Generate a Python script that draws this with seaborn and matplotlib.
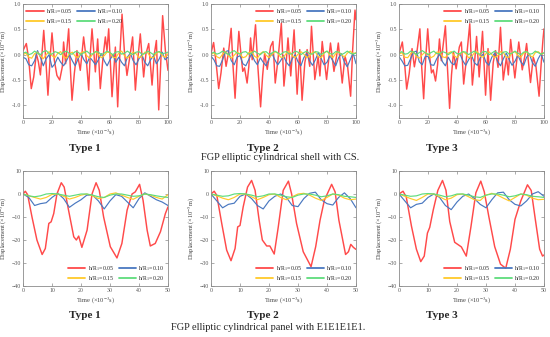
import numpy as np
import matplotlib
matplotlib.use("Agg")
import matplotlib.pyplot as plt
import seaborn as sns

# ---- data ----
t_top = np.arange(0, 101, 2)
t_bot = np.arange(0, 51, 2)

labels = [r"h/R$_1$=0.05", r"h/R$_1$=0.10", r"h/R$_1$=0.15", r"h/R$_1$=0.20"]
colors = ["#ff4a4a", "#4a78c0", "#ffc92a", "#5edc7c"]

# top row, red series (peaks / troughs)
red_t1 = [0, 2.3, 3.9, 5.7, 7.4, 9.2, 10.6, 12.0, 14.3, 15.9, 17.2, 18.9, 20.0, 21.6, 23.4, 25.3, 27.1, 28.0,
          29.4, 31.5, 32.6, 33.8, 35.4, 37.2, 39.5, 41.8, 43.7, 45.3, 46.4, 47.6, 49.9, 51.5, 53.3, 55.2, 56.8,
          57.9, 59.1, 61.4, 63.7, 65.3, 66.7, 68.3, 69.9, 71.7, 74.0, 75.6, 77.5, 79.1, 80.9, 83.2, 84.8, 86.7,
          89.0, 90.6, 92.0, 93.6, 94.9, 96.3, 98.2, 100]
red_v1 = [0.08, 0.22, -0.08, -0.67, -0.44, 0.02, -0.14, -0.40, 0.48, -0.18, -0.80, 0.02, 0.43, -0.11, -0.41, -0.50,
          -0.24, 0.25, -0.18, 0.51, -0.24, -0.90, -0.37, 0.08, -0.31, 0.35, -0.11, -0.70, 0.02, 0.51, -0.34, 0.31,
          -0.67, -0.05, 0.35, 0.08, 0.51, -0.83, 0.15, -1.03, -0.05, 0.80, 0.08, -0.41, 0.02, 0.35, -0.70, -0.11,
          0.41, -0.44, 0.02, 0.22, -0.60, 0.02, 0.28, -1.09, -0.24, 0.77, 0.08, -0.31]

red_t2 = [0, 1.8, 3.5, 5.3, 6.9, 8.8, 10.4, 12.0, 13.9, 15.2, 16.6, 18.0, 19.2, 20.8, 21.9, 23.1, 24.9, 26.1, 27.3,
          28.4, 30.7, 32.3, 34.2, 35.6, 37.0, 38.8, 41.1, 42.7, 44.3, 46.2, 48.5, 50.3, 52.0, 53.1, 55.0, 57.3,
          59.4, 61.2, 62.8, 64.7, 66.3, 68.1, 69.3, 71.6, 73.9, 75.1, 76.7, 79.7, 82.4, 84.8, 86.6, 87.8, 90.5,
          92.4, 94.2, 96.3, 97.7, 99.3, 100]
red_v2 = [0.03, 0.24, -0.16, -0.67, -0.36, 0.13, -0.23, 0.03, 0.52, -0.23, -0.86, -0.10, 0.46, -0.03, -0.33, -0.26,
          -0.56, -0.23, 0.33, -0.10, 0.59, -0.23, -1.03, -0.42, 0.03, -0.29, 0.16, 0.26, -0.56, -0.10, 0.62, -0.62,
          -0.10, 0.33, -0.42, 0.49, -0.78, 0.10, -0.90, -0.16, 0.10, -0.23, 0.56, -0.49, -0.03, -0.42, 0.26, -0.49,
          0.23, -0.33, -0.03, 0.23, -0.56, -0.03, -0.23, -0.82, 0.10, 0.88, 0.69]

red_t3 = [0, 2.3, 3.8, 5.3, 7.0, 9.0, 10.6, 12.3, 14.4, 15.6, 17.0, 18.4, 19.8, 21.2, 22.4, 23.6, 25.2, 26.6, 27.9,
          29.2, 32.0, 33.4, 34.9, 36.2, 37.6, 39.4, 41.6, 43.0, 44.6, 46.5, 48.8, 50.6, 52.2, 53.5, 55.3, 57.6,
          59.7, 61.4, 63.2, 65.0, 66.6, 68.3, 70.0, 71.9, 74.1, 75.4, 77.0, 79.9, 82.6, 85.0, 86.8, 88.0, 90.7,
          92.6, 94.4, 96.6, 98.0, 99.3, 100]
red_v3 = [0.02, 0.25, -0.15, -0.68, -0.38, 0.12, -0.24, 0.04, 0.51, -0.22, -0.87, -0.08, 0.51, -0.05, -0.36, -0.30,
          -0.52, -0.20, 0.31, -0.12, 0.57, -0.25, -1.06, -0.40, 0.05, -0.28, 0.15, 0.25, -0.58, -0.08, 0.61, -0.60,
          -0.12, 0.36, -0.44, 0.46, -0.80, 0.12, -0.90, -0.15, 0.08, -0.25, 0.54, -0.50, -0.05, -0.40, 0.30, -0.46,
          0.25, -0.30, -0.02, 0.22, -0.55, -0.05, -0.22, -0.82, -0.20, 0.30, 0.51]

# top row, small series on t_top
blue_s1 = [-0.05, -0.08, -0.20, -0.22, -0.12, 0.08, -0.05, -0.22, -0.08, 0.00,
           -0.25, -0.18, -0.05, -0.15, -0.22, -0.12, 0.00, -0.12, -0.22, -0.08,
           0.02, -0.10, -0.18, -0.05, -0.12, -0.20, -0.10, 0.02, -0.12, -0.22,
           -0.10, 0.00, -0.15, -0.05, -0.15, -0.22, -0.05, 0.03, -0.12, -0.20,
           -0.08, 0.00, -0.15, -0.22, -0.10, -0.02, -0.18, -0.08, 0.05, -0.10, -0.05]
yellow_s1 = [0.00, 0.03, -0.05, -0.07, 0.02, 0.05, -0.03, -0.08, 0.00, 0.06,
             -0.02, -0.06, 0.03, 0.06, -0.04, -0.07, 0.02, 0.05, -0.03, -0.06,
             0.04, 0.06, -0.02, -0.07, 0.01, 0.06, 0.00, -0.06, -0.02, 0.05,
             0.04, -0.05, -0.06, 0.03, 0.07, -0.02, -0.07, 0.00, 0.05, 0.02,
             -0.06, -0.03, 0.05, 0.04, -0.05, -0.06, 0.03, 0.06, -0.02, -0.05, 0.02]
green_s1 = [0.03, 0.05, 0.00, 0.02, 0.07, 0.03, 0.00, 0.06, 0.08, 0.02,
            0.01, 0.06, 0.04, 0.00, 0.05, 0.07, 0.02, 0.01, 0.06, 0.05,
            0.00, 0.04, 0.07, 0.02, 0.01, 0.06, 0.05, 0.00, 0.03, 0.07,
            0.04, 0.00, 0.05, 0.06, 0.01, 0.03, 0.07, 0.03, 0.00, 0.05,
            0.06, 0.01, 0.02, 0.07, 0.04, 0.00, 0.05, 0.06, 0.02, 0.03, 0.05]

blue_s2 = [-0.03, -0.10, -0.22, -0.23, -0.10, 0.06, 0.08, -0.12, -0.20, -0.05,
           -0.02, -0.18, -0.22, -0.10, 0.02, -0.12, -0.20, -0.06, -0.15, -0.22,
           -0.08, 0.03, -0.10, -0.20, -0.12, -0.02, -0.15, -0.22, -0.08, 0.00,
           -0.14, -0.22, -0.06, 0.02, -0.12, -0.21, -0.10, 0.04, -0.08, -0.20,
           -0.15, -0.02, -0.12, -0.22, -0.06, 0.02, -0.15, -0.24, -0.10, 0.03, -0.18]
yellow_s2 = [0.00, 0.04, -0.04, -0.07, 0.01, 0.06, -0.02, -0.07, -0.01, 0.05,
             0.02, -0.06, -0.04, 0.04, 0.06, -0.03, -0.07, 0.02, 0.06, -0.01,
             -0.06, 0.00, 0.06, 0.03, -0.05, -0.05, 0.03, 0.07, -0.02, -0.06,
             0.01, 0.06, 0.01, -0.06, -0.03, 0.05, 0.05, -0.04, -0.06, 0.03,
             0.07, -0.01, -0.06, 0.02, 0.06, 0.00, -0.05, 0.03, 0.07, 0.02, 0.04]
green_s2 = [0.02, 0.05, 0.01, 0.03, 0.07, 0.04, 0.00, 0.05, 0.08, 0.03,
            0.01, 0.05, 0.06, 0.01, 0.03, 0.07, 0.03, 0.00, 0.05, 0.06,
            0.01, 0.03, 0.07, 0.04, 0.00, 0.05, 0.06, 0.01, 0.02, 0.07,
            0.05, 0.00, 0.04, 0.07, 0.02, 0.01, 0.06, 0.05, 0.00, 0.04,
            0.07, 0.02, 0.01, 0.06, 0.05, 0.00, 0.03, 0.07, 0.03, 0.01, 0.03]

blue_s3 = [-0.04, -0.12, -0.22, -0.21, -0.08, 0.05, 0.07, -0.14, -0.20, -0.04,
           -0.03, -0.20, -0.21, -0.08, 0.01, -0.14, -0.22, -0.05, -0.16, -0.20,
           -0.06, 0.02, -0.12, -0.21, -0.10, -0.01, -0.16, -0.21, -0.06, 0.01,
           -0.15, -0.21, -0.05, 0.03, -0.13, -0.22, -0.08, 0.03, -0.10, -0.21,
           -0.13, -0.01, -0.14, -0.21, -0.05, 0.01, -0.16, -0.23, -0.08, 0.02, -0.15]
yellow_s3 = [0.01, 0.04, -0.05, -0.06, 0.02, 0.06, -0.03, -0.07, 0.00, 0.05,
             0.01, -0.06, -0.03, 0.05, 0.05, -0.04, -0.06, 0.03, 0.06, -0.02,
             -0.06, 0.01, 0.06, 0.02, -0.06, -0.04, 0.04, 0.06, -0.03, -0.05,
             0.02, 0.06, 0.00, -0.06, -0.02, 0.06, 0.04, -0.05, -0.05, 0.04,
             0.06, -0.02, -0.05, 0.03, 0.06, -0.01, -0.05, 0.04, 0.06, 0.01, 0.03]
green_s3 = [0.03, 0.06, 0.01, 0.02, 0.07, 0.05, 0.00, 0.04, 0.08, 0.04,
            0.00, 0.04, 0.07, 0.02, 0.02, 0.06, 0.04, 0.00, 0.04, 0.07,
            0.02, 0.02, 0.06, 0.05, 0.00, 0.04, 0.07, 0.02, 0.01, 0.06,
            0.06, 0.00, 0.03, 0.07, 0.03, 0.00, 0.05, 0.06, 0.01, 0.03,
            0.07, 0.03, 0.00, 0.05, 0.06, 0.01, 0.02, 0.07, 0.04, 0.01, 0.04]

# bottom row, red series (key points)
redb_t1 = [0, 0.8, 1.6, 3.1, 4.8, 6.6, 7.7, 8.9, 9.7, 10.6, 11.7, 13.2, 14.2, 15.7, 17.5, 18.4, 19.2, 20.3, 22.1,
           23.8, 25.2, 26.3, 27.8, 30.1, 32.4, 34.1, 35.9, 37.6, 38.7, 40.2, 41.4, 42.8, 43.9, 45.6, 47.4, 49.1, 50]
redb_v1 = [0, 1.2, -0.3, -10, -20, -26.3, -23.7, -12.8, -12.1, -8.5, 0, 4.9, 3.0, -7, -18.6, -20, -18.3, -23.2,
           -15.7, 0, 4.9, 1.6, -10, -22.9, -27.8, -21.5, -7, 0, 0.9, 4.2, -2.7, -15.7, -22.6, -21.5, -16.4, -8.5, -5.6]

redb_t2 = [0, 1.1, 2.0, 3.7, 5.4, 6.9, 8.3, 9.2, 10.0, 11.1, 12.6, 14.0, 15.2, 16.6, 17.7, 19.2, 20.3, 21.8, 23.2,
           24.9, 26.7, 27.8, 29.5, 31.8, 34.5, 36.1, 37.6, 39.1, 41.6, 42.8, 44.1, 46.4, 47.4, 48.2, 49.1, 50]
redb_v2 = [0, 1.2, -0.6, -12.8, -24.4, -29, -23.7, -14.3, -13.7, -5.6, 3.0, 5.9, 1.6, -11.4, -20, -22.6, -22.6,
           -26.1, -14.3, 1.6, 5.6, 0, -12.8, -25.1, -31.6, -22.9, -11.4, -2.7, 4.2, 0.9, -11.4, -26.3, -25.1,
           -21.9, -23.2, -24.1]

redb_t3 = [0, 1.4, 2.5, 4.3, 6.0, 7.5, 8.7, 9.8, 10.6, 11.8, 13.4, 15.0, 16.2, 17.5, 19.2, 21.5, 23.2, 24.8,
           26.5, 28.2, 29.4, 31.0, 33.0, 35.0, 36.8, 38.4, 40.0, 42.0, 44.3, 45.6, 47.0, 48.5, 49.5, 50]
redb_v3 = [0, 1.2, -1.3, -14, -24, -29.4, -27, -17, -14.5, -7, 1.6, 5.9, 1.6, -12, -21, -23, -27, -14.3, 0.5,
           5.6, 1.0, -10, -22.9, -30.5, -32.3, -24, -11, -3, 4.0, 1.5, -11, -24, -27, -26.5]

# bottom row, small series on t_bot
blueb_1 = [0, -1.5, -5, -4.2, -3.8, -1.5, 0.3, -2, -5.8, -4, -2.5, -0.5, -0.5,
           -3, -6.5, -3, -0.3, -1, -3.5, -6, -2, 0.5, -1, -2.5, -3.5, -5]
yellowb_1 = [0, -0.8, -1.5, -2.2, -1.5, -0.2, 0, -1, -2.2, -1.5, -0.5, 0, -0.8,
             -2, -1.5, 0, 0.5, -0.5, -1.5, -2.3, -1, 0, -0.5, -1.5, -2.2, -0.3]
greenb_1 = [0, -0.8, -1.2, -0.8, 0, 0.2, 0, -0.5, -1, -0.5, 0, 0, -0.5,
            -1.2, -1.5, -0.5, 0, 0, -0.5, -1, -0.8, 0, -0.3, -0.8, -1.2, -1.5]

blueb_2 = [0, -3, -6, -4.5, -4, -1, 0, -2, -5, -6.5, -3, -1, 0,
           -1.5, -5, -5.5, -2, 0.3, 0.8, -2.5, -4.2, -4.8, -1.5, 0.5, -2, -6]
yellowb_2 = [0, -0.8, -1.8, -2.5, -1.5, 0, 0, -1.2, -2.5, -1.5, -0.3, 0, -1.5,
             -2.5, -1.2, 0, 0.3, -0.5, -1.8, -2.8, -1.5, 0, -0.5, -1.8, -2.5, -2.2]
greenb_2 = [0, -0.5, -1, -0.8, 0, 0.2, 0, -0.5, -1.2, -0.8, 0, 0, -0.5,
            -1.2, -1.5, -0.5, 0, 0, -0.5, -1.2, -0.8, 0, -0.3, -1, -1.2, -1.5]

blueb_3 = [0, -3, -6, -4.5, -4, -1.5, 0, -1.5, -5, -6.8, -3.5, -1, 0,
           -2, -4.5, -6, -2.5, 0.5, 0.8, -2.5, -4.5, -5.2, -3, 0, 1, -1]
yellowb_3 = [0, -1, -2, -2.8, -1.5, 0, 0, -1.2, -2.5, -1.8, -0.3, 0, -1.2,
             -2.5, -2.8, -0.5, 0.3, -0.5, -1.8, -3, -1.5, 0, -0.5, -1.8, -2.5, -2.3]
greenb_3 = [0, -0.5, -1, -0.8, 0, 0.2, 0, -0.5, -1.2, -0.8, 0, 0, -0.5,
            -1.2, -1.5, -0.5, 0, 0, -0.5, -1.2, -0.8, 0, -0.3, -1, -1.2, -1.5]

types = ["Type 1", "Type 2", "Type 3"]
captions = ["FGP elliptic cylindrical shell with CS.", "FGP elliptic cylindrical panel with E1E1E1E1."]

# ---- figure ----
sns.set_style("ticks")
plt.rcParams["font.family"] = ["Liberation Serif", "DejaVu Serif"]
plt.rcParams["mathtext.fontset"] = "stix"

fig = plt.figure(figsize=(5.5, 3.37), dpi=100)

lefts = [23 / 550, 211 / 550, 399 / 550]
w = 145 / 550
top_row = [(red_t1, red_v1, blue_s1, yellow_s1, green_s1),
           (red_t2, red_v2, blue_s2, yellow_s2, green_s2),
           (red_t3, red_v3, blue_s3, yellow_s3, green_s3)]
bot_row = [(redb_t1, redb_v1, blueb_1, yellowb_1, greenb_1),
           (redb_t2, redb_v2, blueb_2, yellowb_2, greenb_2),
           (redb_t3, redb_v3, blueb_3, yellowb_3, greenb_3)]


def style_axes(ax):
    for s in ax.spines.values():
        s.set_color("#8a8a8a")
        s.set_linewidth(0.6)
    ax.tick_params(direction="in", length=2, width=0.5, colors="#8a8a8a",
                   labelsize=4.2, labelcolor="#555555", pad=1.5, top=True, right=True)


def draw(ax, rt, rv, b, y, g, t):
    kw = dict(solid_joinstyle="round", solid_capstyle="round")
    sns.lineplot(x=rt, y=rv, ax=ax, color=colors[0], lw=1.05, label=labels[0], **kw)
    sns.lineplot(x=t, y=b, ax=ax, color=colors[1], lw=0.85, label=labels[1], **kw)
    sns.lineplot(x=t, y=y, ax=ax, color=colors[2], lw=0.85, label=labels[2], **kw)
    sns.lineplot(x=t, y=g, ax=ax, color=colors[3], lw=0.85, label=labels[3], **kw)
    lines = ax.get_lines()
    return [lines[0], lines[2], lines[1], lines[3]]


def add_legend(ax, hs, loc):
    leg = ax.legend(hs, [labels[0], labels[2], labels[1], labels[3]], ncol=2, loc=loc, frameon=False,
                    fontsize=4.2, handlelength=3, columnspacing=0.8, labelspacing=0.15,
                    borderaxespad=0.15, handletextpad=0.4)
    for ln in leg.get_lines():
        ln.set_linewidth(1.3)


for i in range(3):
    ax = fig.add_axes([lefts[i], 1 - 118 / 337, w, 114 / 337])
    rt, rv, b, y, g = top_row[i]
    hs = draw(ax, rt, rv, b, y, g, t_top)
    ax.set_xlim(0, 100)
    ax.set_ylim(-1.25, 1.0)
    ax.set_xticks([0, 20, 40, 60, 80, 100])
    ax.set_yticks([-1.0, -0.5, 0.0, 0.5, 1.0])
    ax.set_yticklabels(["-1.0", "-0.5", "0.0", "0.5", "1.0"])
    ax.set_xlabel(r"Time (×10$^{-3}$s)", fontsize=4.6, labelpad=2, color="#444444")
    ax.set_ylabel(r"Displacement (×10$^{-3}$m)", fontsize=4.6, labelpad=1.5, color="#444444")
    style_axes(ax)
    add_legend(ax, hs, "upper left" if i == 0 else "upper right")

for i in range(3):
    ax = fig.add_axes([lefts[i], 1 - 286 / 337, w, 115 / 337])
    rt, rv, b, y, g = bot_row[i]
    hs = draw(ax, rt, rv, b, y, g, t_bot)
    ax.set_xlim(0, 50)
    ax.set_ylim(-40, 10)
    ax.set_xticks([0, 10, 20, 30, 40, 50])
    ax.set_yticks([-40, -30, -20, -10, 0, 10])
    ax.set_xlabel(r"Time (×10$^{-3}$s)", fontsize=4.6, labelpad=2, color="#444444")
    ax.set_ylabel(r"Displacement (×10$^{-5}$m)", fontsize=4.6, labelpad=1.5, color="#444444")
    style_axes(ax)
    add_legend(ax, hs, "lower right")

type_x = [85 / 550, 263 / 550, 442 / 550]
for i in range(3):
    fig.text(type_x[i], 1 - 148 / 337, types[i], ha="center", va="center", fontsize=8, fontweight="bold")
    fig.text(type_x[i], 1 - 315 / 337, types[i], ha="center", va="center", fontsize=8, fontweight="bold")
fig.text(0.51, 1 - 158 / 337, captions[0], ha="center", va="center", fontsize=7.5)
fig.text(0.488, 1 - 327 / 337, captions[1], ha="center", va="center", fontsize=7.5)

fig.savefig("out.png", dpi=100, facecolor="white")
